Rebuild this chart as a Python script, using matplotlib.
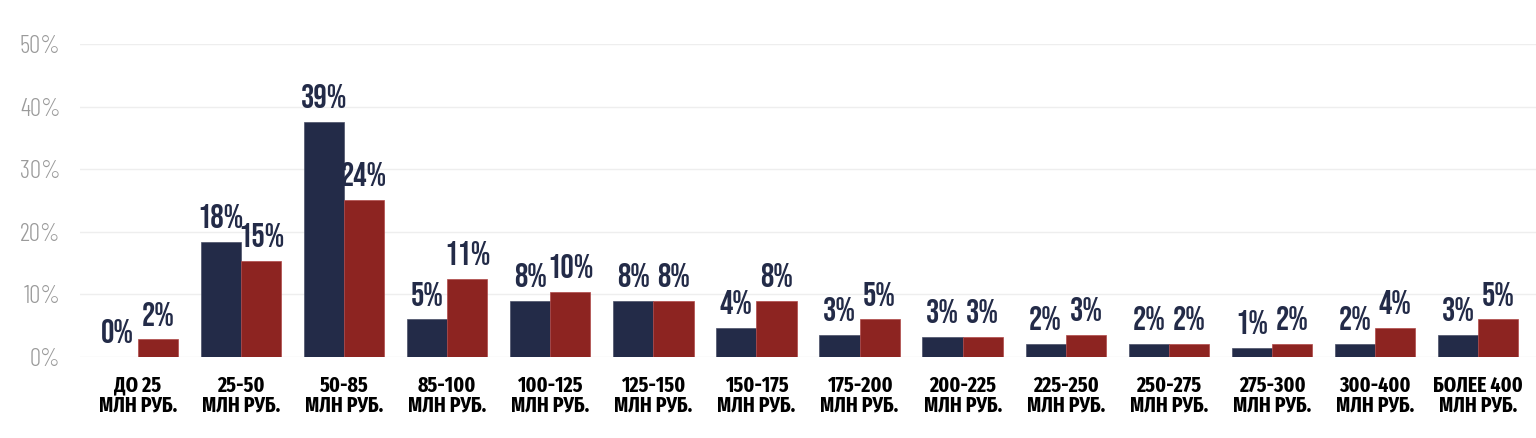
"""Distribution by price bracket — two series, grouped bars with % labels."""
import matplotlib

matplotlib.use("Agg")
import matplotlib.pyplot as plt
import numpy as np

COLOR_A = "#232b48"     # navy series
COLOR_B = "#8d2421"     # dark red series
COLOR_GRID = "#eeeeee"
COLOR_TICK = "#9a9a9a"

FONT_VALUE = ["Bebas Neue", "Oswald", "DejaVu Sans"]
FONT_CAT = ["Fira Sans Extra Condensed", "Oswald", "DejaVu Sans"]
FONT_TICK = ["Barlow Condensed", "DejaVu Sans"]

categories = [
    "ДО 25\nМЛН РУБ.", "25-50\nМЛН РУБ.", "50-85\nМЛН РУБ.", "85-100\nМЛН РУБ.",
    "100-125\nМЛН РУБ.", "125-150\nМЛН РУБ.", "150-175\nМЛН РУБ.", "175-200\nМЛН РУБ.",
    "200-225\nМЛН РУБ.", "225-250\nМЛН РУБ.", "250-275\nМЛН РУБ.", "275-300\nМЛН РУБ.",
    "300-400\nМЛН РУБ.", "БОЛЕЕ 400\nМЛН РУБ.",
]
# bar heights as drawn (%)
series_a = [0.0, 18.4, 37.6, 6.0, 9.0, 9.0, 4.7, 3.5, 3.2, 2.1, 2.1, 1.4, 2.1, 3.5]
series_b = [2.8, 15.3, 25.1, 12.5, 10.4, 9.0, 9.0, 6.0, 3.2, 3.5, 2.1, 2.1, 4.7, 6.0]
# printed labels
labels_a = ["0%", "18%", "39%", "5%", "8%", "8%", "4%", "3%", "3%", "2%", "2%", "1%", "2%", "3%"]
labels_b = ["2%", "15%", "24%", "11%", "10%", "8%", "8%", "5%", "3%", "3%", "2%", "2%", "4%", "5%"]
yticks = [0, 10, 20, 30, 40, 50]

fig = plt.figure(figsize=(15.36, 4.38), dpi=100)
ax = fig.add_axes([80 / 1536, 81 / 438, 1 - 80 / 1536, (357 - 44) / 438])

x = np.arange(len(categories))
w = 0.39
ax.bar(x - w / 2, series_a, w, color=COLOR_A, edgecolor="#4a5068", linewidth=0.5, zorder=3)
ax.bar(x + w / 2, series_b, w, color=COLOR_B, edgecolor="#b04848", linewidth=0.5, zorder=3)

lab_font = dict(fontsize=24, family=FONT_VALUE, ha="center", va="bottom", color=COLOR_A)
for xi, v, t in zip(x, series_a, labels_a):
    ax.annotate(t, (xi - w / 2, v), textcoords="offset points", xytext=(0, 10), **lab_font)
for xi, v, t in zip(x, series_b, labels_b):
    ax.annotate(t, (xi + w / 2, v), textcoords="offset points", xytext=(0, 10), **lab_font)

ax.set_xlim(-0.56, len(categories) - 0.44)
ax.set_ylim(0, 50)
ax.set_yticks(yticks)
ax.set_yticklabels([f"{t}%" for t in yticks], color=COLOR_TICK, fontsize=18,
                   family=FONT_TICK, fontweight=300)
ax.set_xticks(x)
ax.set_xticklabels(categories, fontsize=15.5, family=FONT_CAT, fontweight=700,
                   linespacing=0.9, color="black")
ax.tick_params(axis="both", length=0)
ax.tick_params(axis="x", pad=13)
ax.tick_params(axis="y", pad=14)
ax.grid(axis="y", color=COLOR_GRID, linewidth=1)
ax.set_axisbelow(True)
for s in ax.spines.values():
    s.set_visible(False)

fig.savefig("out.png", dpi=100)
